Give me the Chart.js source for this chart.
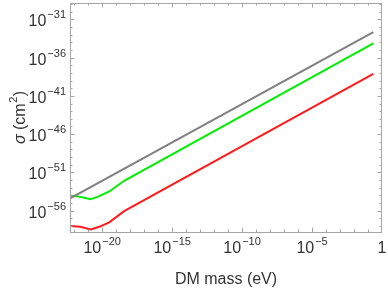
<!DOCTYPE html>
<html>
<head>
<meta charset="utf-8">
<script src="https://cdn.jsdelivr.net/npm/chart.js@4.4.0/dist/chart.umd.min.js"></script>
<style>
  html, body { margin: 0; padding: 0; background: #fff; }
  #wrap { width: 388px; height: 291px; }
</style>
</head>
<body>
<div id="wrap"><canvas id="sigmaChart" width="388" height="291"></canvas></div>
<script>
// values (mass in eV, sigma in cm^2)
const massGray = [5.1e-23, 0.24];
const sigmaGray = [4.0e-55, 2.1e-33];

const massGreen = [5.1e-23, 1.4e-22, 1.5e-21, 6.2e-21, 3.2e-20, 3.7e-19, 0.24];
const sigmaGreen = [8.7e-55, 7.9e-55, 3.0e-55, 7.9e-55, 3.2e-54, 7.9e-53, 7.6e-35];

const massRed = [5.1e-23, 2.7e-22, 1.5e-21, 6.2e-21, 3.2e-20, 3.7e-19, 0.24];
const sigmaRed = [1.0e-58, 7.6e-59, 3.5e-59, 7.6e-59, 2.9e-58, 8.5e-57, 7.4e-39];

// tick labels as powers of ten
const xTickExps = [-20, -15, -10, -5, 0];
const yTickExps = [-56, -51, -46, -41, -36, -31];

const FONT = '"Liberation Sans", Arial, sans-serif';
const FRAME = '#a6a6a6';
const TEXT = '#333';

function toPoints(xs, ys) {
  return xs.map((x, i) => ({ x: x, y: ys[i] }));
}

/** draw "10^exp" (or "1") with a raised exponent */
function drawPow(ctx, exp, x, y, align) {
  ctx.textBaseline = 'alphabetic';
  ctx.textAlign = 'left';
  if (exp === 0) {
    ctx.font = '16px ' + FONT;
    let w = ctx.measureText('1').width;
    ctx.fillText('1', align === 'right' ? x - w : x - w / 2, y);
    return;
  }
  let base = '10', sup = '\u2212' + Math.abs(exp);
  ctx.font = '16px ' + FONT;
  let wb = ctx.measureText(base).width;
  ctx.font = '11px ' + FONT;
  let ws = ctx.measureText(sup).width;
  let w = wb + ws + 1;
  let start = align === 'right' ? x - w : x - w / 2;
  ctx.font = '16px ' + FONT;
  ctx.fillText(base, start, y);
  ctx.font = '11px ' + FONT;
  ctx.fillText(sup, start + wb + 1, y - 8);
}

const framePlugin = {
  id: 'frame',
  afterDraw(chart) {
    const ctx = chart.ctx;
    const a = chart.chartArea;
    const sx = chart.scales.x, sy = chart.scales.y;
    ctx.save();

    // frame
    ctx.strokeStyle = FRAME;
    ctx.lineWidth = 1;
    ctx.strokeRect(Math.round(a.left) + 0.5, Math.round(a.top) + 0.5,
      Math.round(a.right - a.left) - 1, Math.round(a.bottom - a.top));

    // ticks on all four sides, pointing inward
    ctx.beginPath();
    for (let e = -22; e <= 0; e++) {
      let px = Math.round(sx.getPixelForValue(Math.pow(10, e))) + 0.5;
      if (px <= a.left + 1 || px >= a.right - 1) continue;
      let len = xTickExps.includes(e) ? 4.5 : 2.5;
      ctx.moveTo(px, a.bottom); ctx.lineTo(px, a.bottom - len);
      ctx.moveTo(px, a.top); ctx.lineTo(px, a.top + len);
    }
    for (let e = -58; e <= -29; e++) {
      let py = Math.round(sy.getPixelForValue(Math.pow(10, e))) + 0.5;
      if (py <= a.top + 1 || py >= a.bottom - 1) continue;
      let len = yTickExps.includes(e) ? 4.5 : 2.5;
      ctx.moveTo(a.left, py); ctx.lineTo(a.left + len, py);
      ctx.moveTo(a.right, py); ctx.lineTo(a.right - len, py);
    }
    ctx.stroke();

    // tick labels
    ctx.fillStyle = TEXT;
    xTickExps.forEach(e => {
      drawPow(ctx, e, sx.getPixelForValue(Math.pow(10, e)), a.bottom + 21, 'center');
    });
    yTickExps.forEach(e => {
      drawPow(ctx, e, a.left - 4, sy.getPixelForValue(Math.pow(10, e)) + 7, 'right');
    });

    // x title
    ctx.font = '16px ' + FONT;
    ctx.textAlign = 'center';
    ctx.fillText('DM mass (eV)', (a.left + a.right) / 2, 284);

    // y title, rotated
    ctx.translate(25, (a.top + a.bottom) / 2);
    ctx.rotate(-Math.PI / 2);
    ctx.textAlign = 'left';
    ctx.font = 'italic 16px ' + FONT;
    let w1 = ctx.measureText('\u03c3').width;
    ctx.font = '16px ' + FONT;
    let w2 = ctx.measureText(' (cm').width;
    let w4 = ctx.measureText(')').width;
    ctx.font = '11px ' + FONT;
    let w3 = ctx.measureText('2').width;
    let x0 = -(w1 + w2 + w3 + w4 + 1) / 2;
    ctx.font = 'italic 16px ' + FONT;
    ctx.fillText('\u03c3', x0, 0);
    ctx.font = '16px ' + FONT;
    ctx.fillText(' (cm', x0 + w1, 0);
    ctx.font = '11px ' + FONT;
    ctx.fillText('2', x0 + w1 + w2 + 0.5, -8);
    ctx.font = '16px ' + FONT;
    ctx.fillText(')', x0 + w1 + w2 + w3 + 1, 0);

    ctx.restore();
  }
};

function line(data, color) {
  return {
    data: data,
    borderColor: color,
    borderWidth: 2,
    pointRadius: 0,
    tension: 0,
    fill: false
  };
}

new Chart(document.getElementById('sigmaChart'), {
  type: 'line',
  data: {
    datasets: [
      line(toPoints(massGray, sigmaGray), '#808080'),
      line(toPoints(massGreen, sigmaGreen), '#00ee00'),
      line(toPoints(massRed, sigmaRed), '#ff1a1a')
    ]
  },
  options: {
    responsive: false,
    animation: false,
    devicePixelRatio: 1,
    layout: { padding: { left: 70, right: 6, top: 3, bottom: 59 } },
    plugins: { legend: { display: false }, tooltip: { enabled: false } },
    scales: {
      x: { type: 'logarithmic', min: 5e-23, max: 1, display: false },
      y: { type: 'logarithmic', min: 1.6e-59, max: 1.4e-29, display: false }
    }
  },
  plugins: [framePlugin]
});
</script>
</body>
</html>
